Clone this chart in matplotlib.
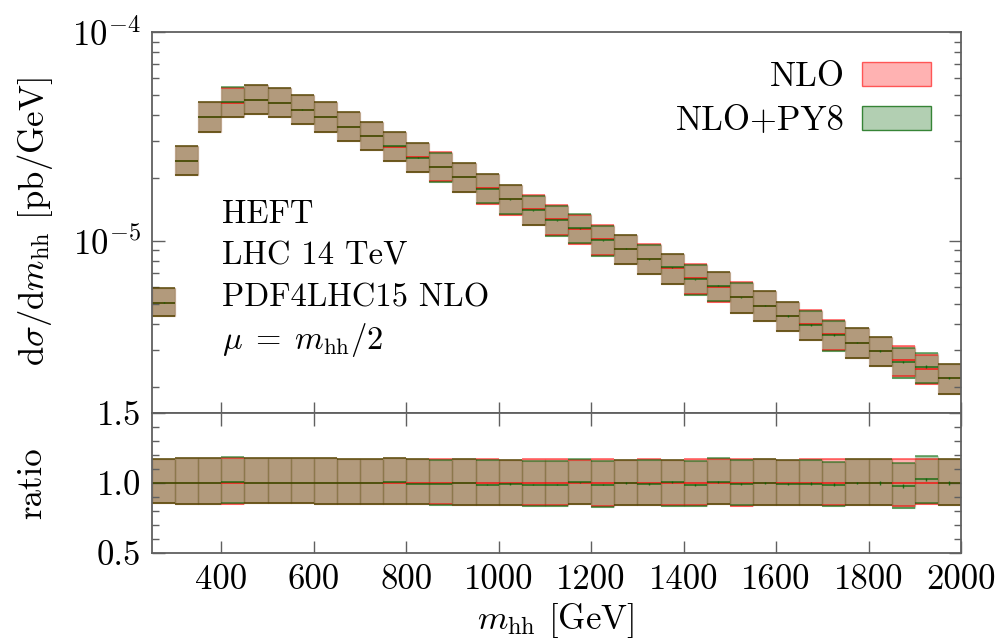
import numpy as np
import matplotlib
matplotlib.use("Agg")
import matplotlib.pyplot as plt
from matplotlib.patches import Patch
from matplotlib.ticker import FixedLocator, LogLocator, NullFormatter, FixedFormatter

plt.rcParams["font.family"] = "cmr10"
plt.rcParams["mathtext.fontset"] = "cm"
plt.rcParams["axes.formatter.use_mathtext"] = True
plt.rcParams["axes.unicode_minus"] = False

# m_hh bins (lower edges, GeV), 50 GeV wide
bin_lo = [250, 300, 350, 400, 450, 500, 550, 600, 650, 700, 750, 800, 850, 900,
          950, 1000, 1050, 1100, 1150, 1200, 1250, 1300, 1350, 1400, 1450, 1500,
          1550, 1600, 1650, 1700, 1750, 1800, 1850, 1900, 1950]
bin_width = 50

# NLO central values [pb/GeV]
nlo = [5.07e-6, 2.42e-5, 3.91e-5, 4.59e-5, 4.73e-5, 4.57e-5, 4.25e-5, 3.91e-5,
       3.52e-5, 3.18e-5, 2.83e-5, 2.52e-5, 2.27e-5, 2.02e-5, 1.79e-5, 1.59e-5,
       1.42e-5, 1.27e-5, 1.145e-5, 1.02e-5, 9.19e-6, 8.23e-6, 7.43e-6, 6.63e-6,
       6.04e-6, 5.40e-6, 4.90e-6, 4.39e-6, 3.98e-6, 3.58e-6, 3.26e-6, 2.98e-6,
       2.69e-6, 2.44e-6, 2.21e-6]

# scale band of NLO, relative to NLO central
nlo_up = [1.174, 1.181, 1.181, 1.179, 1.181, 1.179, 1.176, 1.176, 1.171, 1.171,
          1.179, 1.171, 1.171, 1.169, 1.171, 1.167, 1.171, 1.171, 1.167, 1.171,
          1.167, 1.171, 1.164, 1.171, 1.171, 1.171, 1.171, 1.162, 1.171, 1.171,
          1.169, 1.169, 1.171, 1.169, 1.169]
nlo_dn = [0.860, 0.852, 0.852, 0.852, 0.857, 0.855, 0.855, 0.848, 0.850, 0.852,
          0.848, 0.848, 0.848, 0.845, 0.840, 0.840, 0.840, 0.840, 0.848, 0.838,
          0.845, 0.840, 0.840, 0.840, 0.848, 0.838, 0.843, 0.840, 0.840, 0.840,
          0.843, 0.843, 0.838, 0.848, 0.840]

# NLO+PY8 relative to NLO central
py8_ratio = [1.000, 1.000, 1.000, 1.007, 1.000, 1.000, 1.000, 1.000, 1.000, 1.000,
             1.007, 0.993, 0.993, 1.000, 0.988, 0.993, 0.988, 0.988, 1.005, 0.988,
             1.000, 0.993, 1.007, 0.988, 1.010, 0.995, 1.000, 0.995, 0.995, 0.988,
             1.000, 1.000, 0.979, 1.026, 1.000]
py8_up = [1.174, 1.181, 1.176, 1.186, 1.181, 1.179, 1.176, 1.176, 1.171, 1.171,
          1.179, 1.171, 1.167, 1.169, 1.162, 1.167, 1.157, 1.157, 1.174, 1.157,
          1.167, 1.162, 1.164, 1.157, 1.181, 1.162, 1.171, 1.162, 1.162, 1.152,
          1.169, 1.169, 1.140, 1.195, 1.169]
py8_dn = [0.860, 0.852, 0.852, 0.857, 0.857, 0.855, 0.855, 0.852, 0.850, 0.852,
          0.848, 0.848, 0.843, 0.845, 0.845, 0.845, 0.836, 0.833, 0.852, 0.831,
          0.845, 0.840, 0.838, 0.833, 0.852, 0.840, 0.843, 0.840, 0.840, 0.833,
          0.843, 0.843, 0.824, 0.860, 0.840]
# statistical errors of NLO+PY8 (relative)
py8_stat = [0.003, 0.002, 0.002, 0.002, 0.002, 0.002, 0.002, 0.002, 0.002, 0.003,
            0.003, 0.003, 0.003, 0.003, 0.003, 0.004, 0.004, 0.004, 0.004, 0.005,
            0.005, 0.005, 0.006, 0.006, 0.007, 0.007, 0.008, 0.008, 0.009, 0.010,
            0.010, 0.011, 0.012, 0.013, 0.013]

x_ticks = [400, 600, 800, 1000, 1200, 1400, 1600, 1800, 2000]
ratio_ticks = [0.5, 1.0, 1.5]

info_lines = ["HEFT", "LHC 14 TeV", "PDF4LHC15 NLO", r"$\mu\;=\;m_{\rm hh}/2$"]

RED = (1.0, 0.0, 0.0)
GREEN = (0.0, 0.39, 0.0)
FS = 25
SPINE = "#606060"

lo = np.array(bin_lo, dtype=float)
hi = lo + bin_width
nlo = np.array(nlo)
py8_c = nlo * np.array(py8_ratio)

fig = plt.figure(figsize=(9.99, 6.40), dpi=100)
ax = fig.add_axes([152 / 999, 1 - 413 / 640, 809 / 999, 381 / 640])
rax = fig.add_axes([152 / 999, 1 - 553 / 640, 809 / 999, 140 / 640], sharex=ax)


def draw_band(a, cen, up, dn, line, color):
    top = cen * np.array(up)
    bot = cen * np.array(dn)
    a.bar(lo, top - bot, bottom=bot, width=bin_width, align="edge",
          color=color + (0.3,), edgecolor=color + (0.12,), linewidth=1.0)
    a.hlines(top, lo, hi, colors=[color + (0.6,)], linewidth=1.2)
    a.hlines(bot, lo, hi, colors=[color + (0.6,)], linewidth=1.2)
    a.hlines(line, lo, hi, colors=[color + (0.7,)], linewidth=1.3)


# main panel
draw_band(ax, nlo, nlo_up, nlo_dn, nlo, RED)
draw_band(ax, nlo, py8_up, py8_dn, py8_c, GREEN)
ax.errorbar(lo + bin_width / 2, py8_c, yerr=py8_c * np.array(py8_stat), fmt="none",
            ecolor=GREEN + (0.8,), elinewidth=1.0)

ax.set_yscale("log")
ax.set_ylim(1.5e-6, 1e-4)
ax.set_xlim(250, 2000)
ax.yaxis.set_major_locator(LogLocator(base=10))
ax.yaxis.set_minor_locator(LogLocator(base=10, subs=np.arange(2, 10)))
ax.yaxis.set_minor_formatter(NullFormatter())
ax.tick_params(axis="y", which="both", direction="in", left=True, right=True,
               colors=SPINE, labelcolor="black", labelsize=FS)
ax.tick_params(axis="y", which="major", length=9, width=1.0)
ax.tick_params(axis="y", which="minor", length=5, width=1.0)
ax.tick_params(axis="x", which="both", direction="in", bottom=True, top=False,
               labelbottom=False, length=8, width=1.0, colors=SPINE)
ax.tick_params(axis="y", pad=8)

for i, s in enumerate(info_lines):
    ax.text(0.0865, 0.522 - 0.11 * i, s, transform=ax.transAxes, fontsize=23.5,
            va="center", ha="left")

handles = [Patch(facecolor=RED + (0.3,), edgecolor=RED + (0.6,), label="NLO"),
           Patch(facecolor=GREEN + (0.3,), edgecolor=GREEN + (0.75,), label="NLO+PY8")]
ax.legend(handles=handles, loc="upper right", frameon=False, markerfirst=False,
          fontsize=FS, handlelength=2.0, handleheight=0.7, labelspacing=0.35,
          handletextpad=0.5, borderaxespad=0.55, borderpad=0.3)

# ratio panel
ones = np.ones(len(bin_lo))
draw_band(rax, ones, nlo_up, nlo_dn, ones, RED)
draw_band(rax, ones, py8_up, py8_dn, np.array(py8_ratio), GREEN)
rax.errorbar(lo + bin_width / 2, py8_ratio, yerr=py8_stat, fmt="none",
             ecolor=GREEN + (0.8,), elinewidth=1.0)
rax.set_ylim(0.5, 1.5)
rax.yaxis.set_major_locator(FixedLocator(ratio_ticks))
rax.yaxis.set_major_formatter(FixedFormatter(["%.1f" % t for t in ratio_ticks]))
rax.yaxis.set_minor_locator(FixedLocator([0.6, 0.7, 0.8, 0.9, 1.1, 1.2, 1.3, 1.4]))
rax.xaxis.set_major_locator(FixedLocator(x_ticks))
rax.xaxis.set_major_formatter(FixedFormatter([str(t) for t in x_ticks]))
rax.tick_params(axis="both", which="both", direction="in", left=True, right=True,
                top=True, bottom=True, colors=SPINE, labelcolor="black",
                labelsize=FS)
rax.tick_params(axis="both", which="major", length=9, width=1.0)
rax.tick_params(axis="y", which="minor", length=5, width=1.0)
rax.tick_params(axis="y", pad=8)
rax.tick_params(axis="x", pad=8)

for a in (ax, rax):
    for sp in a.spines.values():
        sp.set_color(SPINE)
        sp.set_linewidth(1.3)

fig.text(35 / 999, 1 - 222 / 640,
         r"$\mathrm{d}\sigma/\mathrm{d}m_{\mathrm{hh}}$ [pb/GeV]",
         rotation=90, ha="center", va="center", fontsize=FS)
fig.text(32 / 999, 1 - 483 / 640, "ratio", rotation=90, ha="center",
         va="center", fontsize=FS)
fig.text(556 / 999, 1 - 621 / 640, r"$m_{\rm hh}$ [GeV]", ha="center",
         va="center", fontsize=FS)

fig.savefig("out.png", dpi=100)
